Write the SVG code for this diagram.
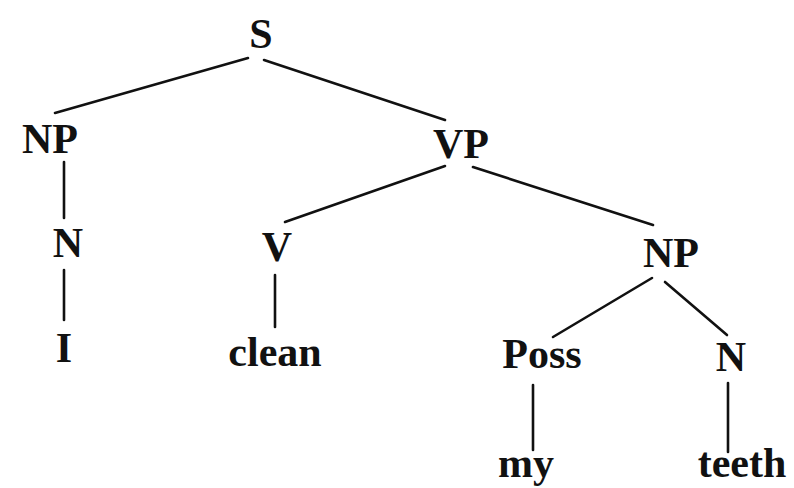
<svg xmlns="http://www.w3.org/2000/svg" width="794" height="488" viewBox="0 0 794 488">
<style>
text{font-family:"Liberation Serif","Times New Roman",serif;font-weight:bold;font-size:42px;fill:#111;text-anchor:middle}
.e line{stroke:#111;stroke-width:2.6;stroke-linecap:round}
</style>
<rect width="794" height="488" fill="#fff"/>
<g class="e" id="connectors">
<line x1="248" y1="58" x2="55" y2="113"/>
<line x1="264" y1="60" x2="445" y2="120"/>
<line x1="64" y1="162" x2="64" y2="218"/>
<line x1="64" y1="270" x2="64" y2="320"/>
<line x1="445" y1="166" x2="285" y2="222"/>
<line x1="473" y1="167" x2="653" y2="225"/>
<line x1="275" y1="275" x2="275" y2="327"/>
<line x1="652" y1="278" x2="553" y2="337"/>
<line x1="665" y1="282" x2="727" y2="335"/>
<line x1="533" y1="385" x2="533" y2="450"/>
<line x1="728" y1="383" x2="728" y2="452"/>
</g>
<g id="n-S"><text x="261" y="48">S</text></g>
<g id="n-NP1"><text x="50" y="153">NP</text></g>
<g id="n-N1"><text x="68" y="257">N</text></g>
<g id="n-I"><text x="64" y="362">I</text></g>
<g id="n-VP"><text x="461" y="158">VP</text></g>
<g id="n-V"><text x="277" y="261">V</text></g>
<g id="n-clean"><text x="275" y="366">clean</text></g>
<g id="n-NP2"><text x="671" y="267">NP</text></g>
<g id="n-Poss"><text x="542" y="368">Poss</text></g>
<g id="n-my"><text x="526" y="477">my</text></g>
<g id="n-N2"><text x="731" y="371">N</text></g>
<g id="n-teeth"><text x="742" y="477">teeth</text></g>
</svg>
